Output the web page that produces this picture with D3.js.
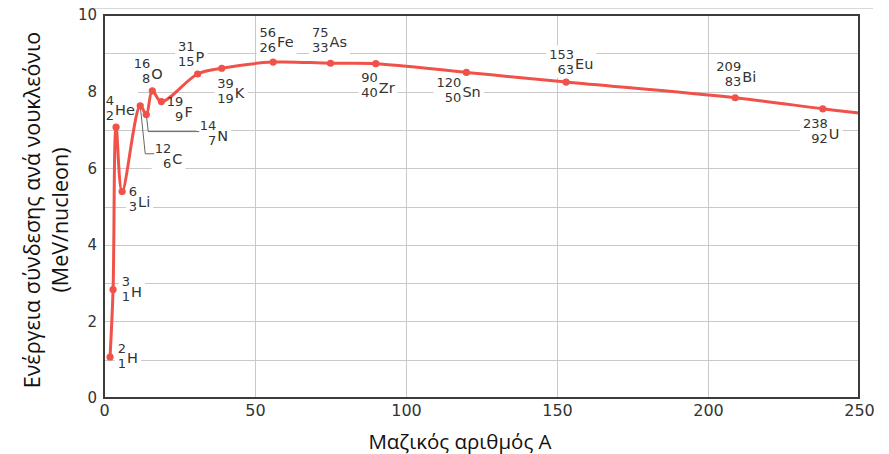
<!DOCTYPE html>
<html>
<head>
<meta charset="utf-8">
<script src="https://cdn.jsdelivr.net/npm/d3@7/dist/d3.min.js"></script>
<style>
  html, body { margin: 0; padding: 0; background: #fff; }
  svg { display: block; }
</style>
</head>
<body>
<svg id="chart" width="889" height="454"></svg>
<script>
// ---- data ----
const massNumbers   = [2, 3, 4, 6, 12, 14, 16, 19, 31, 39, 56, 75, 90, 120, 153, 209, 238];
const bindingEnergy = [1.07, 2.83, 7.07, 5.39, 7.63, 7.40, 8.02, 7.74, 8.46, 8.61, 8.77, 8.74, 8.73, 8.50, 8.25, 7.84, 7.55];
const atomicNumbers = [1, 1, 2, 3, 6, 7, 8, 9, 15, 19, 26, 33, 40, 50, 63, 83, 92];
const symbols       = ["H", "H", "He", "Li", "C", "N", "O", "F", "P", "K", "Fe", "As", "Zr", "Sn", "Eu", "Bi", "U"];
const curveTailA    = [250];
const curveTailE    = [7.44];
const xTicks        = [0, 50, 100, 150, 200, 250];
const yTicks        = [0, 2, 4, 6, 8, 10];
const yGrid         = [1, 2, 3, 4, 5, 6, 7, 8, 9];
const xTitle        = "Μαζικός αριθμός A";
const yTitleLines   = ["Ενέργεια σύνδεσης ανά νουκλεόνιο", "(MeV/nucleon)"];

// ---- layout (pixel offsets of each isotope label from its point) ----
const labelOffsets = [
  [17, 6], [18, 7], [-1, -12], [16, 15], [32, 58], [71, 26], [-1, -12], [23, 15],
  [-2, -12], [13, 30], [4, -15], [-1, -16], [3, 29], [-4, 25], [9, -13], [7, -16], [6, 30]
];
// leader lines (elbow, end) relative to the point, by index
const leaders = { 4: [[5, 48], [14, 48]], 5: [[2, 17], [53, 17]] };

const svg = d3.select("#chart");
const pL = 104, pR = 859, pT = 15, pB = 398;

const x = d3.scaleLinear().domain([0, 250]).range([pL, pR]);
const y = d3.scaleLinear().domain([0, 10]).range([pB, pT]);

const red = "#f0524a";
const textCol = "#333";
const labelFont = "'DejaVu Sans', Verdana, sans-serif";

// faint artefact line of the original figure
svg.append("line").attr("x1", 92).attr("x2", 873).attr("y1", 8.5).attr("y2", 8.5)
  .attr("stroke", "#d8d8d8").attr("stroke-width", 1);

// gridlines
const grid = svg.append("g");
grid.selectAll("line.h").data(yGrid).join("line").attr("class", "h")
  .attr("x1", pL).attr("x2", pR)
  .attr("y1", d => Math.round(y(d)) + 0.5).attr("y2", d => Math.round(y(d)) + 0.5)
  .attr("stroke", "#c9c9c9").attr("stroke-width", 1);
grid.selectAll("line.v").data(xTicks.slice(1, -1)).join("line").attr("class", "v")
  .attr("y1", pT).attr("y2", pB)
  .attr("x1", d => Math.round(x(d)) + 0.5).attr("x2", d => Math.round(x(d)) + 0.5)
  .attr("stroke", "#c9c9c9").attr("stroke-width", 1);

const pts = massNumbers.map((a, i) => ({
  A: a, E: bindingEnergy[i], Z: atomicNumbers[i], s: symbols[i],
  px: x(a), py: y(bindingEnergy[i]), off: labelOffsets[i], i
}));

const bgLayer = svg.append("g");
const leaderLayer = svg.append("g");
const curveLayer = svg.append("g");
const labelLayer = svg.append("g");

pts.forEach(p => {
  const g = labelLayer.append("g")
    .attr("transform", `translate(${p.px + p.off[0]},${p.py + p.off[1]})`)
    .attr("font-family", labelFont)
    .attr("fill", textCol);
  g.append("text").attr("x", -1).attr("y", -10.5).attr("text-anchor", "end")
    .attr("font-size", 13).text(p.A);
  g.append("text").attr("x", -1).attr("y", 4.5).attr("text-anchor", "end")
    .attr("font-size", 13).text(p.Z);
  g.append("text").attr("x", 0).attr("y", 0)
    .attr("font-size", 14.5).text(p.s);
  const bb = g.node().getBBox();
  bgLayer.append("rect")
    .attr("x", p.px + p.off[0] + bb.x - 3).attr("y", p.py + p.off[1] + bb.y - 1)
    .attr("width", bb.width + 6).attr("height", bb.height + 2)
    .attr("fill", "#fff");
});

Object.keys(leaders).forEach(k => {
  const p = pts[+k];
  const [e, f] = leaders[k];
  leaderLayer.append("path")
    .attr("d", `M${p.px},${p.py}L${p.px + e[0]},${p.py + e[1]}L${p.px + f[0]},${p.py + f[1]}`)
    .attr("fill", "none").attr("stroke", "#666").attr("stroke-width", 1);
});

const curveData = pts.map(p => [p.A, p.E]).concat(curveTailA.map((a, i) => [a, curveTailE[i]]));
const line = d3.line().x(d => x(d[0])).y(d => y(d[1])).curve(d3.curveCatmullRom.alpha(0.5));
curveLayer.append("path").datum(curveData)
  .attr("d", line).attr("fill", "none").attr("stroke", red)
  .attr("stroke-width", 3).attr("stroke-linejoin", "round");
curveLayer.selectAll("circle").data(pts).join("circle")
  .attr("cx", d => d.px).attr("cy", d => d.py).attr("r", 3.6).attr("fill", red);

svg.append("rect").attr("x", pL).attr("y", pT)
  .attr("width", pR - pL).attr("height", pB - pT)
  .attr("fill", "none").attr("stroke", "#3c3c3c").attr("stroke-width", 2);

const xAxis = d3.axisBottom(x).tickValues(xTicks).tickSize(0).tickPadding(7).tickFormat(d3.format("d"));
const gx = svg.append("g").attr("transform", `translate(0,${pB})`).call(xAxis);
gx.select(".domain").remove();
gx.selectAll("text").attr("font-family", labelFont)
  .attr("font-size", 16).attr("fill", textCol);

const yAxis = d3.axisLeft(y).tickValues(yTicks).tickSize(0).tickPadding(7).tickFormat(d3.format("d"));
const gy = svg.append("g").attr("transform", `translate(${pL},0)`).call(yAxis);
gy.select(".domain").remove();
gy.selectAll("text").attr("font-family", labelFont)
  .attr("font-size", 15).attr("fill", textCol);

svg.append("text").attr("x", 460).attr("y", 449).attr("text-anchor", "middle")
  .attr("font-family", "'Open Sans', sans-serif").attr("font-size", 20.5).attr("fill", "#111")
  .text(xTitle);

const yt = svg.append("text").attr("transform", "rotate(-90)")
  .attr("text-anchor", "middle")
  .attr("font-family", "'Open Sans', sans-serif").attr("font-size", 21.5).attr("fill", "#111");
yt.append("tspan").attr("x", -210).attr("y", 40).text(yTitleLines[0]);
yt.append("tspan").attr("x", -220).attr("y", 68).text(yTitleLines[1]);
</script>
</body>
</html>
